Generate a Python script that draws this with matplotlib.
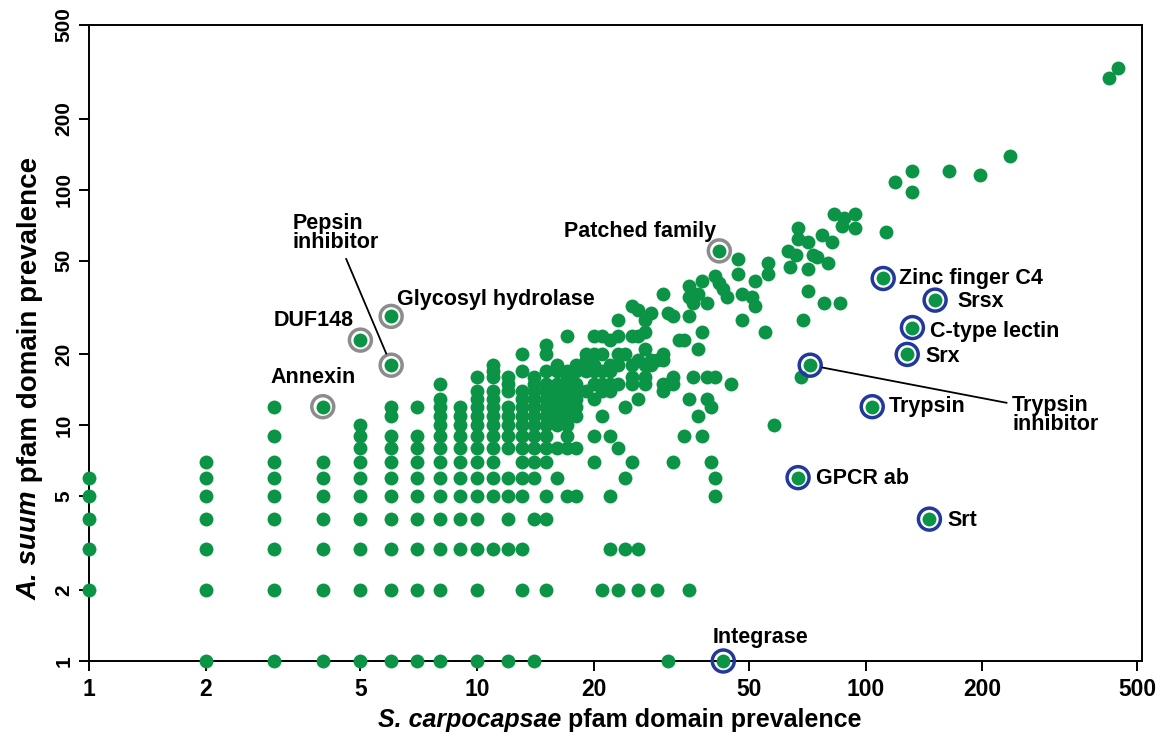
import matplotlib
matplotlib.use('Agg')
import matplotlib.pyplot as plt
from matplotlib.ticker import FixedLocator, NullLocator, FuncFormatter

plt.rcParams['font.family'] = ['Liberation Sans', 'DejaVu Sans']
plt.rcParams['font.weight'] = 'bold'

# small S. carpocapsae counts: one column of A. suum counts per x value
col_sc = [1, 2, 3, 4, 5, 6, 7, 8, 9]
col_as = [
    [2, 3, 4, 5, 6],
    [1, 2, 3, 4, 5, 6, 7],
    [1, 2, 3, 4, 5, 6, 7, 9, 12],
    [1, 2, 3, 4, 5, 6, 7],
    [1, 2, 3, 4, 5, 6, 7, 8, 9, 10],
    [1, 2, 3, 4, 5, 6, 7, 8, 9, 11, 12],
    [1, 2, 3, 4, 5, 6, 7, 8, 9, 12],
    [1, 2, 3, 4, 5, 6, 7, 8, 9, 10, 11, 12, 13, 15],
    [3, 4, 5, 6, 7, 8, 9, 10, 11, 12],
]

# S. carpocapsae >= 10: one row of S. carpocapsae counts per A. suum value
row_as = list(range(1, 25))
row_sc = [
    [10, 12, 14, 31],
    [10, 13, 15, 21, 23, 26, 29, 35],
    [10, 11, 12, 13, 22, 24, 26],
    [10, 12, 14, 15],
    [10, 11, 12, 13, 15, 17, 18, 22, 41],
    [10, 11, 12, 13, 14, 16, 24, 41],
    [10, 11, 13, 14, 15, 20, 25, 32, 40],
    [10, 11, 12, 13, 14, 15, 16, 17, 18, 23],
    [10, 11, 12, 13, 14, 15, 17, 20, 22, 34, 38],
    [10, 11, 12, 13, 14, 15, 16, 17, 58],
    [10, 11, 12, 13, 14, 15, 16, 17, 18, 21, 37],
    [10, 11, 12, 13, 14, 15, 16, 17, 18, 24, 40],
    [10, 11, 13, 14, 15, 16, 17, 18, 20, 26, 35, 39],
    [10, 11, 12, 13, 14, 15, 16, 17, 18, 19, 21, 22, 30],
    [12, 14, 15, 16, 17, 18, 20, 21, 22, 23, 25, 27, 30, 31, 32, 45],
    [10, 11, 12, 14, 17, 25, 27, 32, 36, 39, 41, 68],
    [11, 13, 15, 16, 17, 18, 19, 20, 21, 22],
    [11, 16, 18, 20, 22, 23, 25, 27, 28],
    [19, 26, 28, 29, 30],
    [13, 15, 19, 20, 21, 23, 24, 30],
    [27, 37],
    [15],
    [22, 33, 34],
    [17, 20, 21, 23, 25, 26],
]

# scattered domains with higher counts
upper_sc = [27, 38, 55, 23, 27, 48, 69, 32, 35, 28, 31, 26, 25, 52, 36, 39, 78, 86,
            35, 44, 51, 30, 37, 48, 71, 43, 35, 42, 38, 52, 41, 47, 56, 71, 64, 56,
            80, 47, 75, 66, 73, 63, 71, 82, 67, 77, 113, 67, 94, 87, 88, 83, 94,
            132, 119, 197, 132, 164, 236, 423, 446]
upper_as = [25, 25, 25, 28, 28, 28, 28, 29, 29, 30, 30, 31, 32, 32, 33, 33, 33, 33,
            35, 35, 35, 36, 36, 36, 37, 38, 39, 40, 41, 41, 43, 44, 44, 46, 47, 49,
            49, 51, 52, 53, 53, 55, 60, 60, 62, 64, 66, 69, 69, 70, 76, 79, 79,
            98, 108, 116, 120, 120, 139, 298, 329]

# highlighted domains
hl_names = ['Pepsin\ninhibitor', 'Glycosyl hydrolase', 'DUF148', 'Annexin',
            'Patched family', 'Zinc finger C4', 'Srsx', 'C-type lectin', 'Srx',
            'Trypsin\ninhibitor', 'Trypsin', 'GPCR ab', 'Srt', 'Integrase']
hl_sc = [6, 6, 5, 4, 42, 111, 151, 132, 128, 72, 104, 67, 146, 43]
hl_as = [18, 29, 23, 12, 55, 42, 34, 26, 20, 18, 12, 6, 4, 1]
hl_group = ['grey'] * 5 + ['blue'] * 9

# label placement (pixel offsets, alignment)
hl_offsets = [(-99, 132), (6, 17), (-7, 20), (-52, 29), (-3, 19), (16, 0),
              (22, -1), (18, -4), (18, -2), (202, -50), (17, 0), (18, -1),
              (18, -1), (-11, 24)]
hl_ha = ['left', 'left', 'right', 'left', 'right', 'left', 'left', 'left',
         'left', 'left', 'left', 'left', 'left', 'left']

xs, ys = [], []
for x, col in zip(col_sc, col_as):
    xs += [x] * len(col)
    ys += col
for y, row in zip(row_as, row_sc):
    xs += row
    ys += [y] * len(row)
xs += upper_sc + hl_sc
ys += upper_as + hl_as

green = '#0b9446'
ring_colors = {'grey': '#8c8c8c', 'blue': '#22389a'}

fig = plt.figure(figsize=(11.65, 7.4), dpi=100)
ax = fig.add_axes([89 / 1165, 79 / 740, 1053 / 1165, 636 / 740])
ax.set_xscale('log')
ax.set_yscale('log')
ax.set_xlim(1, 515)
ax.set_ylim(1, 500)

ax.scatter(xs, ys, s=100, color=green, linewidths=0, zorder=3, clip_on=False)
for g in ['grey', 'blue']:
    gx = [x for x, k in zip(hl_sc, hl_group) if k == g]
    gy = [y for y, k in zip(hl_as, hl_group) if k == g]
    ax.scatter(gx, gy, s=250, facecolors='none', edgecolors=ring_colors[g],
               linewidths=2.5, zorder=4, clip_on=False)

for i, name in enumerate(hl_names):
    kw = {}
    if '\n' in name:
        rel = (0.5, 0.5) if i == 0 else (0.0, 0.78)
        kw['arrowprops'] = dict(arrowstyle='-', color='black', lw=1.3,
                                shrinkA=2, shrinkB=9, relpos=rel)
    ax.annotate(name, xy=(hl_sc[i], hl_as[i]), xytext=hl_offsets[i],
                textcoords='offset pixels', ha=hl_ha[i], va='center',
                fontsize=15.5, fontweight='bold', linespacing=0.9,
                zorder=5, **kw)

ticks = [1, 2, 5, 10, 20, 50, 100, 200, 500]
fmt = FuncFormatter(lambda v, p: f'{v:g}')
for axis in (ax.xaxis, ax.yaxis):
    axis.set_major_locator(FixedLocator(ticks))
    axis.set_major_formatter(fmt)
    axis.set_minor_locator(NullLocator())
ax.tick_params(axis='both', direction='out', length=7, width=1.4, color='black')
ax.tick_params(axis='x', labelsize=16.5, pad=5)
ax.tick_params(axis='y', labelsize=15, labelrotation=90, pad=4)
for lab in ax.get_yticklabels():
    lab.set_va('center')
for sp in ax.spines.values():
    sp.set_linewidth(1.4)

# axis titles: italic species name followed by plain bold text
t1 = fig.text(378 / 1165, 8 / 740, 'S. carpocapsae', style='italic',
              fontsize=18, ha='left', va='bottom')
ax.annotate(' pfam domain prevalence', xy=(1, 0), xycoords=t1, ha='left',
            va='bottom', fontsize=18, annotation_clip=False)
t2 = fig.text(30 / 1165, 140 / 740, 'A. suum', style='italic', rotation=90,
              fontsize=20, ha='center', va='bottom')
ax.annotate(' pfam domain prevalence', xy=(0.5, 1), xycoords=t2, ha='center',
            va='bottom', rotation=90, fontsize=20, annotation_clip=False)

fig.savefig('out.png', dpi=100)
